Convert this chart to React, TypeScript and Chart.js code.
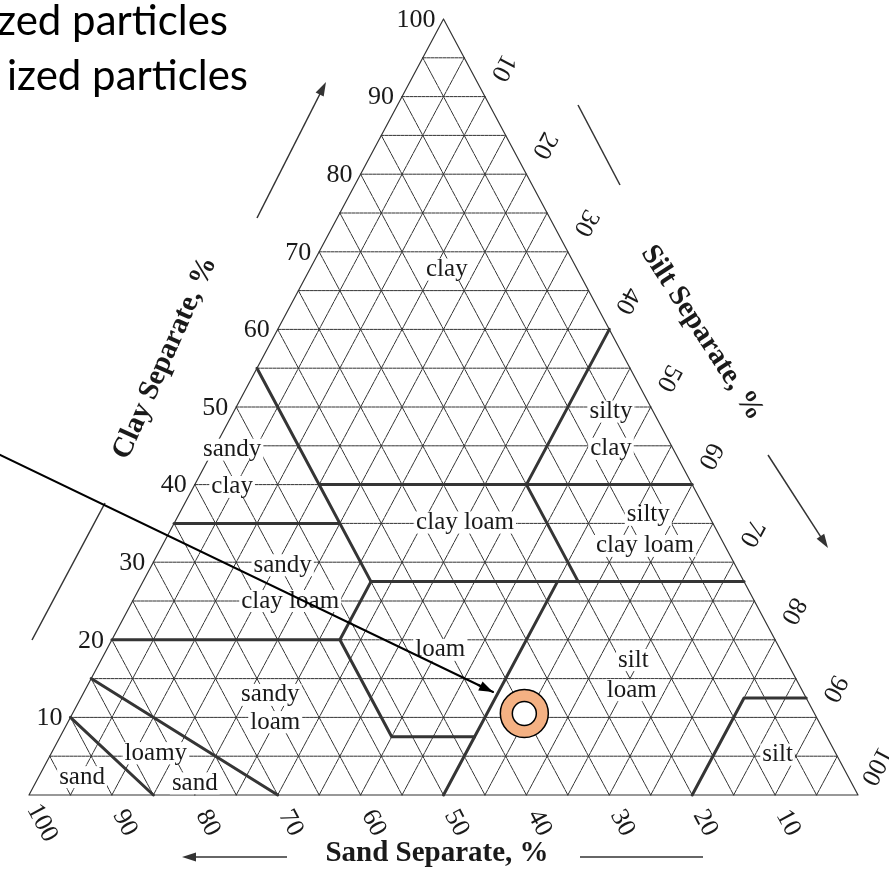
import React, { useEffect, useRef } from 'react';
import { Chart, registerables } from 'chart.js';

Chart.register(...registerables);

// ---------- data ----------
// grid levels (percent) for the three families of lines
const gridLevels = [5, 10, 15, 20, 25, 30, 35, 40, 45, 50, 55, 60, 65, 70, 75, 80, 85, 90, 95];
const clayTicks = [10, 20, 30, 40, 50, 60, 70, 80, 90, 100];
const siltTicks = [10, 20, 30, 40, 50, 60, 70, 80, 90, 100];
const sandTicks = [100, 90, 80, 70, 60, 50, 40, 30, 20, 10];

// texture class boundaries, each a polyline of [sand %, clay %]
const bSandLoamySand: [number, number][] = [[85, 0], [90, 10]];
const bLoamySandSandyLoam: [number, number][] = [[70, 0], [85, 15]];
const bSandyLoamTop: [number, number][] = [[80, 20], [52.5, 20], [52.5, 7.5], [42.5, 7.5], [50, 0]];
const bLoamSiltLoam: [number, number][] = [[42.5, 7.5], [22.5, 27.5]];
const bSclLoam: [number, number][] = [[52.5, 20], [45, 27.5]];
const bSand45: [number, number][] = [[45, 55], [45, 27.5]];
const bClay35: [number, number][] = [[65, 35], [45, 35]];
const bClay275: [number, number][] = [[45, 27.5], [0, 27.5]];
const bClay40: [number, number][] = [[45, 40], [0, 40]];
const bSand20: [number, number][] = [[20, 27.5], [20, 40]];
const bSilt40: [number, number][] = [[20, 40], [0, 60]];
const bSilt: [number, number][] = [[20, 0], [7.5, 12.5], [0, 12.5]];
const boundaries = [
  bSandLoamySand, bLoamySandSandyLoam, bSandyLoamTop, bLoamSiltLoam, bSclLoam, bSand45,
  bClay35, bClay275, bClay40, bSand20, bSilt40, bSilt,
];

// the highlighted sample: [sand %, clay %]
const samplePoint: [number, number] = [35, 10.5];

// annotation arrow (triangle plot coordinates: x = silt + clay/2, y = clay)
const annotationFrom = { x: -5, y: 44.6 };
const annotationTo = { x: 55.97, y: 13.27 };

// region names and where they sit (triangle plot coordinates)
const regionNames = ['clay', 'sandy', 'clay', 'silty', 'clay', 'clay loam', 'silty', 'clay loam',
  'sandy', 'clay loam', 'loam', 'silt', 'loam', 'sandy', 'loam', 'loamy', 'sand', 'sand', 'silt'];
const regionAnchors: [number, number][] = [
  [50.4, 67.7], [24.5, 44.5], [24.5, 39.7], [70.2, 49.4], [70.2, 44.6], [52.6, 35.1], [74.7, 36.1],
  [74.3, 32.1], [30.6, 29.6], [31.5, 25.0], [49.6, 18.7], [72.9, 17.4], [72.7, 13.5], [29.1, 12.9],
  [29.7, 9.4], [15.3, 5.4], [20.0, 1.5], [6.4, 2.3], [90.3, 5.2],
];

// ---------- layout ----------
const CANVAS_W = 889;
const CANVAS_H = 871;
const FRAME = { left: 29, right: 858, bottom: 795, top: 19 };
const FW = FRAME.right - FRAME.left;
const FH = FRAME.bottom - FRAME.top;

const toXY = (sand: number, clay: number) => ({ x: 100 - sand - clay / 2, y: clay });
const GAP = { x: NaN, y: NaN };

function drawArrow(ctx: CanvasRenderingContext2D, x1: number, y1: number, x2: number, y2: number,
  head: number, headW: number, color: string, lw: number) {
  const ang = Math.atan2(y2 - y1, x2 - x1);
  ctx.save();
  ctx.strokeStyle = color;
  ctx.fillStyle = color;
  ctx.lineWidth = lw;
  ctx.beginPath();
  ctx.moveTo(x1, y1);
  ctx.lineTo(x2 - Math.cos(ang) * head * 0.8, y2 - Math.sin(ang) * head * 0.8);
  ctx.stroke();
  if (head > 0) {
    ctx.beginPath();
    ctx.moveTo(x2, y2);
    ctx.lineTo(x2 - Math.cos(ang) * head - Math.sin(ang) * headW / 2, y2 - Math.sin(ang) * head + Math.cos(ang) * headW / 2);
    ctx.lineTo(x2 - Math.cos(ang) * head + Math.sin(ang) * headW / 2, y2 - Math.sin(ang) * head - Math.cos(ang) * headW / 2);
    ctx.closePath();
    ctx.fill();
  }
  ctx.restore();
}

function drawRotText(ctx: CanvasRenderingContext2D, text: string, x: number, y: number, deg: number,
  font: string, color = '#1a1a1a') {
  ctx.save();
  ctx.translate(x, y);
  ctx.rotate((deg * Math.PI) / 180);
  ctx.font = font;
  ctx.fillStyle = color;
  ctx.textAlign = 'center';
  ctx.textBaseline = 'middle';
  ctx.fillText(text, 0, 0);
  ctx.restore();
}

const SERIF = '"Liberation Serif", "DejaVu Serif", serif';

export default function App() {
  const ref = useRef<HTMLCanvasElement>(null);

  useEffect(() => {
    const canvas = ref.current;
    if (!canvas) return;

    const hLines: any[] = [];
    const sandLines: any[] = [];
    const siltLines: any[] = [];
    gridLevels.forEach((k) => {
      hLines.push(toXY(100 - k, k), toXY(0, k), GAP);
      sandLines.push(toXY(k, 0), toXY(k, 100 - k), GAP);
      siltLines.push(toXY(100 - k, 0), toXY(0, 100 - k), GAP);
    });
    const outline = [toXY(100, 0), toXY(0, 0), toXY(0, 100), toXY(100, 0)];

    const lineDs = (id: string, data: any[], color: string, width: number, order: number, dash: number[] = []) => ({
      id, data, showLine: true, borderColor: color, borderWidth: width, pointRadius: 0, pointHoverRadius: 0,
      pointHitRadius: 0, fill: false, spanGaps: false, tension: 0, order, borderDash: dash,
      borderCapStyle: 'round', borderJoinStyle: 'round',
    });

    const datasets: any[] = [
      lineDs('hgrid', hLines, '#333', 1, 20, [3, 1]),
      lineDs('sandgrid', sandLines, '#333', 1, 20, [6, 1]),
      lineDs('siltgrid', siltLines, '#333', 1, 20, [6, 1]),
      lineDs('outline', outline, '#333', 1.2, 19),
      ...boundaries.map((b, i) => lineDs('b' + i, b.map(([s, c]) => toXY(s, c)), '#353535', 3, 10)),
      lineDs('annotation', [annotationFrom, annotationTo], '#000', 2, 3),
      {
        id: 'sampleOuter', data: [toXY(samplePoint[0], samplePoint[1])], showLine: false,
        pointRadius: 24, pointBackgroundColor: '#F4B183', pointBorderColor: '#000', pointBorderWidth: 1.5, order: 2,
      },
      {
        id: 'sampleInner', data: [toXY(samplePoint[0], samplePoint[1])], showLine: false,
        pointRadius: 12, pointBackgroundColor: '#fff', pointBorderColor: '#000', pointBorderWidth: 1.5, order: 1,
      },
    ];

    const drawLabels = (chart: any) => {
      const ctx: CanvasRenderingContext2D = chart.ctx;
      const xs = chart.scales.x;
      const ys = chart.scales.y;
      const px = (x: number) => xs.getPixelForValue(x);
      const py = (y: number) => ys.getPixelForValue(y);
      ctx.save();
      // region names with white backing
      ctx.font = '25px ' + SERIF;
      ctx.textAlign = 'center';
      ctx.textBaseline = 'middle';
      regionNames.forEach((t, i) => {
        const [ax, ay] = regionAnchors[i];
        const x = px(ax);
        const y = py(ay);
        const w = ctx.measureText(t).width;
        ctx.fillStyle = '#fff';
        ctx.fillRect(x - w / 2 - 2, y - 11, w + 4, 22);
        ctx.fillStyle = '#1a1a1a';
        ctx.fillText(t, x, y);
      });
      // clay ticks (left edge)
      ctx.font = '26px ' + SERIF;
      ctx.textAlign = 'right';
      clayTicks.forEach((c) => {
        const p = toXY(100 - c, c);
        ctx.fillStyle = '#1a1a1a';
        ctx.fillText(String(c), px(p.x) - 8, py(p.y) + 1);
      });
      ctx.restore();
      // silt ticks (right edge)
      siltTicks.forEach((s) => {
        const p = toXY(0, 100 - s);
        drawRotText(ctx, String(s), px(p.x) + 18, py(p.y) - 29, 118, '26px ' + SERIF);
      });
      // sand ticks (bottom edge)
      sandTicks.forEach((s) => {
        const p = toXY(s, 0);
        drawRotText(ctx, String(s), px(p.x) + 13, py(p.y) + 28, 62, '26px ' + SERIF);
      });
      // axis titles
      drawRotText(ctx, 'Sand Separate, %', 437, 854, 0, 'bold 29px ' + SERIF);
      drawRotText(ctx, 'Clay Separate, %', 165, 358, -66, 'bold 29px ' + SERIF);
      drawRotText(ctx, 'Silt Separate, %', 702, 333, 57, 'bold 29px ' + SERIF);
      // axis arrows
      drawArrow(ctx, 257, 218, 326, 82, 14, 9, '#333', 1.5);
      drawArrow(ctx, 105, 503, 32, 640, 0, 0, '#333', 1.5);
      drawArrow(ctx, 578, 105, 620, 185, 0, 0, '#333', 1.5);
      drawArrow(ctx, 768, 455, 828, 548, 14, 9, '#333', 1.5);
      drawArrow(ctx, 287, 857, 182, 857, 14, 9, '#333', 1.5);
      drawArrow(ctx, 580, 857, 703, 857, 0, 0, '#333', 1.5);
      // top-left caption
      ctx.save();
      ctx.font = '42px Lato, "Open Sans", sans-serif';
      ctx.fillStyle = '#000';
      ctx.textAlign = 'right';
      ctx.textBaseline = 'alphabetic';
      ctx.fillText('zed particles', 228, 35);
      ctx.fillText('ized particles', 248, 90);
      ctx.restore();
    };

    const overlay = {
      id: 'overlay',
      beforeDatasetDraw(chart: any, args: any) {
        if (chart.data.datasets[args.index].id === 'annotation') drawLabels(chart);
      },
      afterDatasetsDraw(chart: any) {
        const xs = chart.scales.x;
        const ys = chart.scales.y;
        const x1 = xs.getPixelForValue(annotationFrom.x);
        const y1 = ys.getPixelForValue(annotationFrom.y);
        const x2 = xs.getPixelForValue(annotationTo.x);
        const y2 = ys.getPixelForValue(annotationTo.y);
        drawArrow(chart.ctx, x2 - (x2 - x1) * 0.03, y2 - (y2 - y1) * 0.03, x2, y2, 14, 10, '#000', 2);
      },
    };

    const chart = new Chart(canvas, {
      type: 'scatter',
      data: { datasets },
      options: {
        animation: false,
        responsive: false,
        events: [],
        layout: { padding: 0, autoPadding: false },
        plugins: { legend: { display: false }, tooltip: { enabled: false } },
        scales: {
          x: {
            type: 'linear', display: false,
            min: (-FRAME.left / FW) * 100,
            max: ((CANVAS_W - FRAME.left) / FW) * 100,
          },
          y: {
            type: 'linear', display: false,
            min: (-(CANVAS_H - FRAME.bottom) / FH) * 100,
            max: (FRAME.bottom / FH) * 100,
          },
        },
      },
      plugins: [overlay],
    } as any);

    return () => chart.destroy();
  }, []);

  return (
    <div style={{ position: 'absolute', left: 0, top: 0, width: CANVAS_W, height: CANVAS_H, background: '#fff' }}>
      <canvas ref={ref} width={CANVAS_W} height={CANVAS_H} style={{ width: CANVAS_W, height: CANVAS_H, display: 'block' }} />
    </div>
  );
}
